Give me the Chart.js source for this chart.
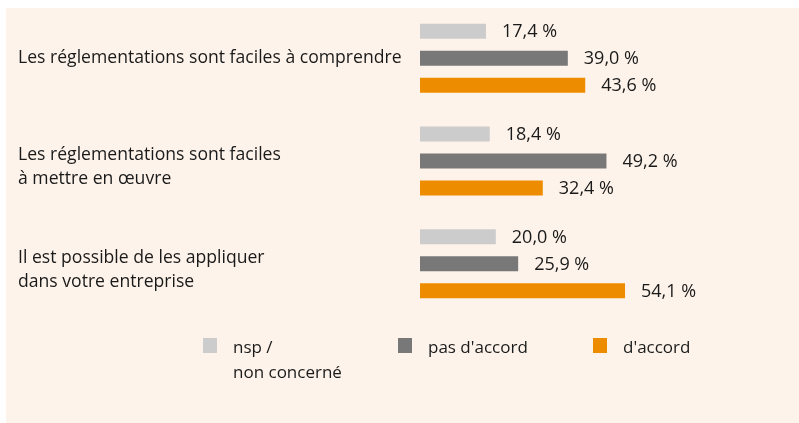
<!DOCTYPE html>
<html>
<head>
<meta charset="utf-8">
<script src="https://cdn.jsdelivr.net/npm/chart.js@4.4.0/dist/chart.umd.min.js"></script>
<style>
    html, body { margin: 0; padding: 0; background: #fff; }
    #panel { position: absolute; left: 6px; top: 8px; width: 793px; height: 415px; background: #fdf3ea; }
    #wrap { position: absolute; left: 0; top: 0; width: 799px; height: 423px; }
    .leg { position: absolute; font: 17px 'Open Sans', sans-serif; color: #1a1a1a; line-height: 25px; white-space: nowrap; }
    .leg i { position: absolute; left: -30px; top: 4px; width: 14px; height: 15px; }
</style>
</head>
<body>
<div id="panel"></div>
<div id="wrap"><canvas id="chart" width="799" height="423"></canvas></div>
<div id="legend"></div>
<script>
const categories = [
    ['Les réglementations sont faciles à comprendre'],
    ['Les réglementations sont faciles', 'à mettre en œuvre'],
    ['Il est possible de les appliquer', 'dans votre entreprise']
];
const seriesNames = [['nsp /', 'non concerné'], ["pas d'accord"], ["d'accord"]];
const nspValues = [17.4, 18.4, 20.0];
const pasAccordValues = [39.0, 49.2, 25.9];
const accordValues = [43.6, 32.4, 54.1];
const seriesColors = ['#cccccc', '#787878', '#ee8c00'];

const textColor = '#1a1a1a';

function fmt(v) {
    return v.toFixed(1).replace('.', ',') + ' %';
}

// category labels, left aligned, first line sits near the group centre
const categoryLabels = {
    id: 'categoryLabels',
    afterDraw(chart) {
        const ctx = chart.ctx;
        const y = chart.scales.y;
        ctx.save();
        ctx.font = '17.6px "Open Sans"';
        ctx.fillStyle = textColor;
        ctx.textAlign = 'left';
        ctx.textBaseline = 'middle';
        categories.forEach((lines, i) => {
            const c = y.getPixelForValue(i);
            const start = lines.length > 1 ? c - 6 : c;
            lines.forEach((line, j) => ctx.fillText(line, 18, start + j * 24));
        });
        ctx.restore();
    }
};

const valueLabels = {
    id: 'valueLabels',
    afterDatasetsDraw(chart) {
        const ctx = chart.ctx;
        ctx.save();
        ctx.font = '18px "Open Sans"';
        ctx.fillStyle = textColor;
        ctx.textAlign = 'left';
        ctx.textBaseline = 'middle';
        chart.data.datasets.forEach((ds, di) => {
            chart.getDatasetMeta(di).data.forEach((bar, i) => {
                ctx.fillText(fmt(ds.data[i]), bar.x + 16, bar.y + 1);
            });
        });
        ctx.restore();
    }
};

const seriesData = [nspValues, pasAccordValues, accordValues];

new Chart(document.getElementById('chart'), {
    type: 'bar',
    data: {
        labels: categories.map(l => l.join(' ')),
        datasets: seriesData.map((d, i) => ({
            label: seriesNames[i].join(' '),
            data: d,
            backgroundColor: seriesColors[i],
            borderWidth: 0,
            categoryPercentage: 0.788,
            barPercentage: 0.556
        }))
    },
    options: {
        indexAxis: 'y',
        responsive: false,
        animation: false,
        layout: { padding: { left: 420, right: 0, top: 7, bottom: 108 } },
        scales: {
            x: { display: false, min: 0, max: 100 },
            y: { display: false }
        },
        plugins: {
            legend: { display: false },
            tooltip: { enabled: false }
        }
    },
    plugins: [categoryLabels, valueLabels]
});

// legend
const legendX = [233, 428, 623];
const legend = document.getElementById('legend');
seriesNames.forEach((name, i) => {
    const el = document.createElement('div');
    el.className = 'leg';
    el.style.left = legendX[i] + 'px';
    el.style.top = '334px';
    el.innerHTML = '<i style="background:' + seriesColors[i] + '"></i>' + name.join('<br>');
    legend.appendChild(el);
});
</script>
</body>
</html>
